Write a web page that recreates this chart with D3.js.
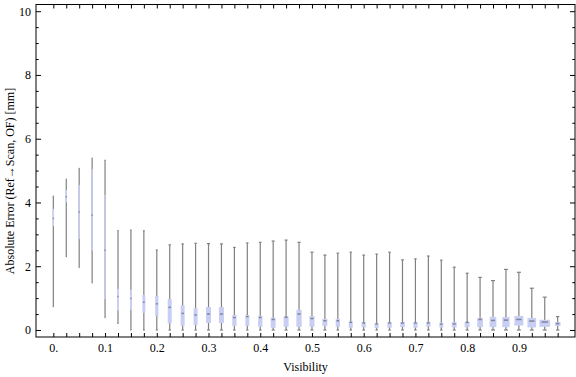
<!DOCTYPE html>
<html>
<head>
<meta charset="utf-8">
<script src="https://cdn.jsdelivr.net/npm/d3@7"></script>
<style>
  html, body { margin: 0; padding: 0; background: #fff; }
  svg { display: block; font-family: "Liberation Serif", "Times New Roman", serif; }
</style>
</head>
<body>
<svg id="chart" width="576" height="377"></svg>
<script>
// visibility bins (box centres)
const visibility = [0, 0.025, 0.05, 0.075, 0.1, 0.125, 0.15, 0.175, 0.2, 0.225,
  0.25, 0.275, 0.3, 0.325, 0.35, 0.375, 0.4, 0.425, 0.45, 0.475,
  0.5, 0.525, 0.55, 0.575, 0.6, 0.625, 0.65, 0.675, 0.7, 0.725,
  0.75, 0.775, 0.8, 0.825, 0.85, 0.875, 0.9, 0.925, 0.95, 0.975];
const minErr = [0.73, 2.3, 1.96, 1.48, 0.39, 0.21, 0, 0, 0, 0,
  0, 0, 0, 0, 0, 0, 0, 0, 0, 0,
  0, 0, 0, 0, 0, 0, 0, 0, 0, 0,
  0, 0, 0, 0, 0, 0, 0, 0, 0, 0];
const q1Err = [3.26, 4.0, 2.85, 2.49, 0.97, 0.61, 0.63, 0.54, 0.43, 0.21,
  0.13, 0.16, 0.22, 0.22, 0.13, 0.13, 0.10, 0.07, 0.10, 0.10,
  0.10, 0.13, 0.10, 0.07, 0.09, 0.06, 0.07, 0.09, 0.07, 0.10,
  0.08, 0.08, 0.09, 0.09, 0.09, 0.09, 0.14, 0.08, 0.10, 0.13];
const medianErr = [3.5, 4.18, 3.7, 3.6, 2.5, 1.05, 0.99, 0.87, 0.82, 0.71,
  0.52, 0.47, 0.50, 0.50, 0.39, 0.42, 0.39, 0.33, 0.40, 0.50,
  0.36, 0.29, 0.29, 0.24, 0.22, 0.19, 0.22, 0.22, 0.22, 0.22,
  0.18, 0.19, 0.24, 0.33, 0.30, 0.31, 0.33, 0.28, 0.25, 0.20];
const q3Err = [3.8, 4.39, 4.55, 5.04, 4.24, 1.29, 1.26, 1.10, 1.07, 0.97,
  0.78, 0.68, 0.72, 0.72, 0.47, 0.47, 0.44, 0.39, 0.42, 0.63,
  0.44, 0.35, 0.35, 0.28, 0.25, 0.22, 0.25, 0.25, 0.25, 0.26,
  0.23, 0.25, 0.25, 0.38, 0.41, 0.41, 0.44, 0.38, 0.32, 0.25];
const maxErr = [4.2, 4.73, 5.07, 5.39, 5.33, 3.12, 3.14, 3.11, 2.51, 2.67,
  2.70, 2.72, 2.71, 2.70, 2.59, 2.73, 2.75, 2.79, 2.82, 2.75,
  2.44, 2.35, 2.41, 2.44, 2.35, 2.38, 2.44, 2.20, 2.23, 2.32,
  2.19, 1.97, 1.78, 1.65, 1.55, 1.90, 1.81, 1.31, 1.03, 0.42];
// relative weight of each bin (drives box width)
const binWeight = [14, 14, 14, 14, 14, 20, 20, 30, 33, 40,
  40, 40, 50, 50, 43, 40, 43, 50, 50, 53,
  50, 50, 43, 40, 43, 40, 43, 47, 43, 43,
  40, 50, 50, 57, 67, 73, 90, 87, 107, 57];
const xLabels = ["0.", "0.1", "0.2", "0.3", "0.4", "0.5", "0.6", "0.7", "0.8", "0.9"];
const yMajor = [0, 2, 4, 6, 8, 10];

const svg = d3.select("#chart");
const plotLeft = 36, plotRight = 575, plotTop = 4.5, plotBottom = 337;

const x = d3.scaleLinear().domain([-0.0335, 1.0085]).range([plotLeft, plotRight]);
const y = d3.scaleLinear().domain([-0.22, 10.21]).range([plotBottom, plotTop]);
const w = d3.scaleLinear().domain([0, 100]).range([0, 10]);

const data = visibility.map((v, i) => ({
  v: v, lo: minErr[i], q1: q1Err[i], med: medianErr[i], q3: q3Err[i], hi: maxErr[i], wt: binWeight[i]
}));

const g = svg.append("g");

// whiskers
g.selectAll(".whisker").data(data).enter().append("line")
  .attr("class", "whisker")
  .attr("x1", d => x(d.v)).attr("x2", d => x(d.v))
  .attr("y1", d => y(d.lo)).attr("y2", d => y(d.hi))
  .attr("stroke", "#808080").attr("stroke-width", 1.2);

// fences at whisker ends
["lo", "hi"].forEach(k => {
  g.selectAll(".cap-" + k).data(data).enter().append("line")
    .attr("class", "cap-" + k)
    .attr("x1", d => x(d.v) - Math.min(w(d.wt) * 0.6, 4) / 2)
    .attr("x2", d => x(d.v) + Math.min(w(d.wt) * 0.6, 4) / 2)
    .attr("y1", d => y(d[k])).attr("y2", d => y(d[k]))
    .attr("stroke", "#808080").attr("stroke-width", 1.2);
});

// boxes
g.selectAll(".box").data(data).enter().append("rect")
  .attr("class", "box")
  .attr("x", d => x(d.v) - w(d.wt) / 2)
  .attr("width", d => w(d.wt))
  .attr("y", d => y(d.q3))
  .attr("height", d => y(d.q1) - y(d.q3))
  .attr("fill", "#c9cff4");

// median marks
g.selectAll(".median").data(data).enter().append("line")
  .attr("class", "median")
  .attr("x1", d => x(d.v) - Math.max(w(d.wt) * 0.3, 0.6))
  .attr("x2", d => x(d.v) + Math.max(w(d.wt) * 0.3, 0.6))
  .attr("y1", d => y(d.med)).attr("y2", d => y(d.med))
  .attr("stroke", "#7f849c").attr("stroke-width", 1.5);

// axes (ticks point inward, Mathematica frame style)
const fmtX = (d, i) => (i % 4 === 0 ? xLabels[i / 4] : "");
const yMinor = d3.range(0, 10.01, 0.5).filter(d => d % 2 !== 0);

const axB = svg.append("g").attr("transform", `translate(0,${plotBottom})`)
  .call(d3.axisBottom(x).tickValues(visibility).tickSize(-4).tickPadding(6.5).tickFormat(fmtX));
const axT = svg.append("g").attr("transform", `translate(0,${plotTop})`)
  .call(d3.axisTop(x).tickValues(visibility).tickSize(-4).tickFormat(""));
const axL = svg.append("g").attr("transform", `translate(${plotLeft},0)`)
  .call(d3.axisLeft(y).tickValues(yMajor).tickSize(-5).tickPadding(5).tickFormat(d3.format("d")));
const axLm = svg.append("g").attr("transform", `translate(${plotLeft},0)`)
  .call(d3.axisLeft(y).tickValues(yMinor).tickSize(-2.7).tickFormat(""));
const axR = svg.append("g").attr("transform", `translate(${plotRight},0)`)
  .call(d3.axisRight(y).tickValues(yMajor).tickSize(-5).tickFormat(""));
const axRm = svg.append("g").attr("transform", `translate(${plotRight},0)`)
  .call(d3.axisRight(y).tickValues(yMinor).tickSize(-2.7).tickFormat(""));

[axB, axT, axL, axLm, axR, axRm].forEach(a => {
  a.select(".domain").remove();
  a.selectAll("line").attr("stroke", "#000");
  a.selectAll("text").attr("fill", "#000")
    .style("font-family", "'Liberation Serif', 'Times New Roman', serif")
    .style("font-size", "12px");
});

// frame
svg.append("rect")
  .attr("x", plotLeft).attr("y", plotTop)
  .attr("width", plotRight - plotLeft).attr("height", plotBottom - plotTop)
  .attr("fill", "none").attr("stroke", "#000").attr("stroke-width", 1);

// titles
svg.append("text")
  .attr("x", (plotLeft + plotRight) / 2).attr("y", 371)
  .attr("text-anchor", "middle")
  .style("font-size", "12px")
  .text("Visibility");

svg.append("text")
  .attr("transform", "translate(14,181) rotate(-90)")
  .attr("text-anchor", "middle")
  .style("font-size", "12px")
  .text("Absolute Error (Ref\u2192Scan, OF) [mm]");
</script>
</body>
</html>
